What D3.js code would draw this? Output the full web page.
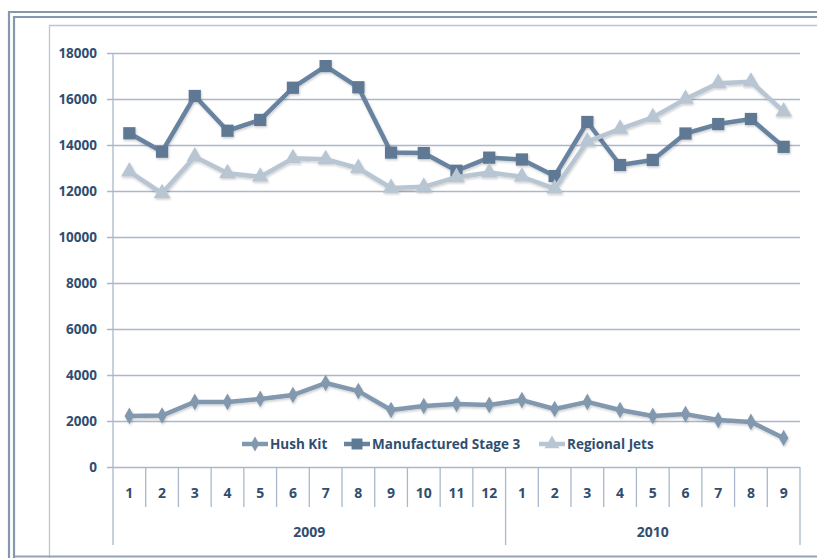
<!DOCTYPE html>
<meta charset="utf-8">
<script src="https://cdn.jsdelivr.net/npm/d3@7"></script>
<style>
body { margin: 0; background: #fff; }
text { font-family: "Open Sans", sans-serif; font-weight: 700; fill: #2f4e70; }
</style>
<body>
<script>

// categories
var years = ["2009", "2010"];
var months2009 = ["1","2","3","4","5","6","7","8","9","10","11","12"];
var months2010 = ["1","2","3","4","5","6","7","8","9"];

// series values, one per month
var hushKit = [2220, 2240, 2830, 2830, 2960, 3130, 3650, 3300, 2480, 2650, 2740, 2700,
               2910, 2520, 2830, 2480, 2220, 2300, 2040, 1960, 1260];
var manufactured = [14510, 13710, 16130, 14620, 15090, 16490, 17430, 16510, 13670, 13650, 12880, 13450,
                    13370, 12650, 15000, 13130, 13350, 14500, 14910, 15130, 13920];
var regional = [12840, 11900, 13490, 12770, 12620, 13420, 13380, 12990, 12130, 12180, 12600, 12800,
                12620, 12100, 14150, 14700, 15200, 16000, 16690, 16750, 15450];

var yTicks = [0, 2000, 4000, 6000, 8000, 10000, 12000, 14000, 16000, 18000];

var width = 817, height = 558;
var plotLeft = 113, plotRight = 800, plotTop = 53, plotBottom = 467;

var cats = months2009.map(function(m) { return "2009-" + m; })
  .concat(months2010.map(function(m) { return "2010-" + m; }));
var labels = months2009.concat(months2010);

var x = d3.scaleBand().domain(cats).range([plotLeft, plotRight]);
var y = d3.scaleLinear().domain([0, 18000]).range([plotBottom, plotTop]);

var svg = d3.select("body").append("svg")
    .attr("width", width)
    .attr("height", height);

var defs = svg.append("defs");
var f = defs.append("filter").attr("id", "shadow")
    .attr("x", "-30%").attr("y", "-30%").attr("width", "160%").attr("height", "160%");
f.append("feDropShadow").attr("dx", 0.8).attr("dy", 1.5).attr("stdDeviation", 1)
    .attr("flood-color", "#000").attr("flood-opacity", 0.2);

// frame
svg.append("path")
    .attr("d", "M9,558V12H817")
    .attr("fill", "none").attr("stroke", "#8598ad").attr("stroke-width", 2.2);
svg.append("path")
    .attr("d", "M14,558V17H817")
    .attr("fill", "none").attr("stroke", "#8598ad").attr("stroke-width", 2.2);
svg.append("path")
    .attr("d", "M49.5,558V25.5H817")
    .attr("fill", "none").attr("stroke", "#b9c5d2").attr("stroke-width", 1.3);
svg.append("line")
    .attr("x1", 15).attr("x2", 817).attr("y1", 556.5).attr("y2", 556.5)
    .attr("stroke", "#93a3b6").attr("stroke-width", 1.8);

// y axis with grid
var yAxis = svg.append("g")
    .attr("transform", "translate(" + plotLeft + ",0)")
    .call(d3.axisLeft(y).tickValues(yTicks).tickSize(-(plotRight - plotLeft)).tickSizeOuter(0).tickPadding(16)
      .tickFormat(d3.format("d")));
yAxis.select(".domain").remove();
yAxis.selectAll(".tick line")
    .attr("x1", -6)
    .attr("stroke", "#a9b9cb").attr("stroke-width", 1.3);
yAxis.selectAll(".tick text")
    .style("font-family", "'Open Sans', sans-serif")
    .style("font-size", "13.5px").style("font-weight", 700).attr("fill", "#2f4e70");

// left axis line and category separators
svg.append("line")
    .attr("x1", plotLeft).attr("x2", plotLeft).attr("y1", plotTop).attr("y2", 545)
    .attr("stroke", "#a9b9cb").attr("stroke-width", 1.3);
var g = svg.append("g");
cats.forEach(function(c, i) {
  if (i === 0) return;
  var long = (i === months2009.length);
  g.append("line")
    .attr("x1", x(c)).attr("x2", x(c))
    .attr("y1", plotBottom).attr("y2", long ? 545 : 507)
    .attr("stroke", "#a9b9cb").attr("stroke-width", 1.3);
});
g.append("line")
  .attr("x1", plotRight).attr("x2", plotRight).attr("y1", plotBottom).attr("y2", 545)
  .attr("stroke", "#a9b9cb").attr("stroke-width", 1.3);

g.selectAll(".mlabel").data(cats).enter().append("text")
  .attr("class", "mlabel")
  .attr("x", function(d) { return x(d) + x.bandwidth() / 2; })
  .attr("y", 498)
  .attr("text-anchor", "middle")
  .style("font-size", "14px")
  .text(function(d, i) { return labels[i]; });

var yearSpans = [[cats[0], cats[months2009.length - 1]], [cats[months2009.length], cats[cats.length - 1]]];
g.selectAll(".ylabel").data(years).enter().append("text")
  .attr("class", "ylabel")
  .attr("x", function(d, i) { return (x(yearSpans[i][0]) + x(yearSpans[i][1]) + x.bandwidth()) / 2; })
  .attr("y", 537)
  .attr("text-anchor", "middle")
  .style("font-size", "14px")
  .text(function(d) { return d; });

// series
var series = [
  {name: "Hush Kit", values: hushKit, color: "#8198ae", symbol: d3.symbolDiamond, size: 80},
  {name: "Manufactured Stage 3", values: manufactured, color: "#6883a0", mcolor: "#5e7995", symbol: d3.symbolSquare, size: 150},
  {name: "Regional Jets", values: regional, color: "#b8c5d2", symbol: d3.symbolTriangle, size: 120}
];

var line = d3.line()
  .x(function(d, i) { return x(cats[i]) + x.bandwidth() / 2; })
  .y(function(d) { return y(d); });

series.forEach(function(s) {
  var sg = svg.append("g").attr("filter", "url(#shadow)");
  sg.append("path")
    .attr("d", line(s.values))
    .attr("fill", "none")
    .attr("stroke", s.color)
    .attr("stroke-width", 4.5)
    .attr("stroke-linejoin", "round");
  sg.selectAll("path.mk").data(s.values).enter().append("path")
    .attr("class", "mk")
    .attr("d", d3.symbol().type(s.symbol).size(s.size))
    .attr("transform", function(d, i) {
      return "translate(" + (x(cats[i]) + x.bandwidth() / 2) + "," + y(d) + ")";
    })
    .attr("fill", s.mcolor || s.color);
});

// legend
var legendX = [242, 344, 539];
var leg = svg.append("g");
series.forEach(function(s, i) {
  var lg = leg.append("g").attr("transform", "translate(" + legendX[i] + ",444)");
  lg.append("line").attr("x1", 0).attr("x2", 26).attr("y1", 0).attr("y2", 0)
    .attr("stroke", s.color).attr("stroke-width", 4.5);
  lg.append("path")
    .attr("d", d3.symbol().type(s.symbol).size(s.size * 0.8))
    .attr("transform", "translate(13,0)")
    .attr("fill", s.mcolor || s.color);
  lg.append("text")
    .attr("x", 28).attr("y", 5)
    .style("font-size", "13.5px")
    .text(s.name);
});

</script>
</body>
</html>
